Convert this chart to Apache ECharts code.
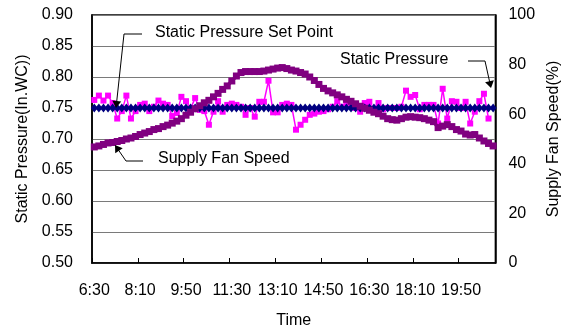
<!DOCTYPE html>
<html>
<head>
<meta charset="utf-8">
<script src="https://cdn.jsdelivr.net/npm/echarts@6/dist/echarts.min.js"></script>
<style>
html,body{margin:0;padding:0;background:#fff;}
#chart{width:570px;height:334px;}
</style>
</head>
<body>
<div id="chart"></div>
<script>
// ---- data ----
var times = [
"6:30","6:40","6:50","7:00","7:10","7:20","7:30","7:40","7:50","8:00",
"8:10","8:20","8:30","8:40","8:50","9:00","9:10","9:20","9:30","9:40",
"9:50","10:00","10:10","10:20","10:30","10:40","10:50","11:00","11:10","11:20",
"11:30","11:40","11:50","12:00","12:10","12:20","12:30","12:40","12:50","13:00",
"13:10","13:20","13:30","13:40","13:50","14:00","14:10","14:20","14:30","14:40",
"14:50","15:00","15:10","15:20","15:30","15:40","15:50","16:00","16:10","16:20",
"16:30","16:40","16:50","17:00","17:10","17:20","17:30","17:40","17:50","18:00",
"18:10","18:20","18:30","18:40","18:50","19:00","19:10","19:20","19:30","19:40",
"19:50","20:00","20:10","20:20","20:30","20:40","20:50","21:00"
];

var setPoint = [
0.75,0.75,0.75,0.75,0.75,0.75,0.75,0.75,0.75,0.75,
0.75,0.75,0.75,0.75,0.75,0.75,0.75,0.75,0.75,0.75,
0.75,0.75,0.75,0.75,0.75,0.75,0.75,0.75,0.75,0.75,
0.75,0.75,0.75,0.75,0.75,0.75,0.75,0.75,0.75,0.75,
0.75,0.75,0.75,0.75,0.75,0.75,0.75,0.75,0.75,0.75,
0.75,0.75,0.75,0.75,0.75,0.75,0.75,0.75,0.75,0.75,
0.75,0.75,0.75,0.75,0.75,0.75,0.75,0.75,0.75,0.75,
0.75,0.75,0.75,0.75,0.75,0.75,0.75,0.75,0.75,0.75,
0.75,0.75,0.75,0.75,0.75,0.75,0.75,0.75
];

var staticPressure = [
0.763,0.770,0.762,0.770,0.758,0.733,0.745,0.770,0.733,0.745,
0.755,0.757,0.745,0.752,0.762,0.757,0.755,0.737,0.742,0.768,
0.761,0.749,0.766,0.747,0.745,0.723,0.744,0.761,0.744,0.755,
0.757,0.755,0.752,0.739,0.750,0.736,0.760,0.760,0.794,0.743,
0.743,0.755,0.757,0.755,0.715,0.723,0.731,0.739,0.741,0.744,
0.745,0.748,0.752,0.761,0.752,0.755,0.755,0.750,0.744,0.758,
0.760,0.744,0.758,0.748,0.750,0.750,0.750,0.752,0.778,0.768,
0.771,0.748,0.755,0.755,0.755,0.725,0.781,0.733,0.761,0.760,
0.750,0.760,0.725,0.744,0.761,0.773,0.733,null
];

var fanSpeed = [
46.8,47.2,47.8,48.4,48.6,49.0,49.4,50.0,50.4,51.0,
51.8,52.4,53.0,53.8,54.2,55.0,55.6,56.4,57.2,58.2,
59.6,60.8,62.2,63.4,64.6,65.6,67.0,68.4,70.0,71.4,
73.4,75.4,76.8,77.2,77.2,77.2,77.2,77.4,77.8,78.2,
78.6,78.8,78.4,77.8,77.4,76.8,76.2,75.0,73.6,72.0,
70.4,69.4,68.6,67.8,67.0,66.0,65.2,64.2,63.2,62.4,
61.6,60.8,60.2,59.2,58.2,57.8,57.6,58.2,58.8,59.0,
58.8,58.6,58.2,57.6,57.0,54.6,55.2,55.8,55.0,53.8,
53.2,52.0,51.6,51.8,50.4,49.2,48.2,47.2
];

var leftTicks = {min:0.50, max:0.90, interval:0.05};
var rightTicks = {min:0, max:100, interval:20};

var FONT = 'Liberation Sans, Arial, sans-serif';

function arrowHead(tip, from, len, half) {
  var dx = tip[0]-from[0], dy = tip[1]-from[1];
  var d = Math.sqrt(dx*dx+dy*dy); dx/=d; dy/=d;
  var bx = tip[0]-dx*len, by = tip[1]-dy*len;
  return [[tip[0],tip[1]],[bx-dy*half,by+dx*half],[bx+dy*half,by-dx*half]];
}

function annotation(text, tx, ty, pts) {
  var tip = pts[pts.length-1], prev = pts[pts.length-2];
  var head = arrowHead(tip, prev, 7, 4.5);
  var dx = tip[0]-prev[0], dy = tip[1]-prev[1];
  var d = Math.sqrt(dx*dx+dy*dy);
  var linePts = pts.slice(0, -1).concat([[tip[0]-dx/d*6, tip[1]-dy/d*6]]);
  return [
    {type:'text', left:tx, top:ty, z:100,
     style:{text:text, font:'16px ' + FONT, fill:'#000', textVerticalAlign:'middle'}},
    {type:'polyline', z:100, shape:{points:linePts},
     style:{stroke:'#000', lineWidth:1, fill:null}},
    {type:'polygon', z:100, shape:{points:head}, style:{fill:'#000'}}
  ];
}

var chart = echarts.init(document.getElementById('chart'), null, {renderer:'canvas'});

var graphics = []
  .concat(annotation('Static Pressure Set Point', 155, 25, [[142,34],[124,34],[116,108]]))
  .concat(annotation('Static Pressure', 340, 52, [[468,61],[485,61],[491,88]]))
  .concat(annotation('Supply Fan Speed', 158, 151, [[143,161],[126,161],[115,145]]));

chart.setOption({
  animation:false,
  backgroundColor:'#fff',
  textStyle:{fontFamily:FONT},
  grid:{left:92, right:65, top:15, bottom:67, show:true, borderColor:'#000', borderWidth:1.5, backgroundColor:'transparent'},
  xAxis:{
    type:'category', data:times, boundaryGap:true,
    name:'Time', nameLocation:'middle', nameGap:50,
    nameTextStyle:{fontSize:16, color:'#000', fontFamily:FONT},
    axisLine:{show:true, lineStyle:{color:'#000', width:1.5}},
    axisTick:{show:true, inside:true, length:5, interval:9, lineStyle:{color:'#000'}},
    axisLabel:{interval:9, fontSize:16, color:'#000', margin:20, fontFamily:FONT},
    splitLine:{show:false}
  },
  yAxis:[
    {type:'value', min:leftTicks.min, max:leftTicks.max, interval:leftTicks.interval,
     name:'Static Pressure(In.WC))', nameLocation:'middle', nameGap:60, nameRotate:90,
     nameTextStyle:{fontSize:16, color:'#000', fontFamily:FONT},
     axisLine:{show:true, lineStyle:{color:'#000', width:1.5}},
     axisTick:{show:false},
     axisLabel:{fontSize:16, color:'#000', margin:19, fontFamily:FONT,
       formatter:function(v){return v.toFixed(2);}},
     splitLine:{show:true, lineStyle:{color:'#7a7a7a', width:1}}},
    {type:'value', min:rightTicks.min, max:rightTicks.max, interval:rightTicks.interval,
     position:'right',
     name:'Supply Fan Speed(%)', nameLocation:'middle', nameGap:44, nameRotate:90,
     nameTextStyle:{fontSize:16, color:'#000', fontFamily:FONT},
     axisLine:{show:true, lineStyle:{color:'#000', width:1.5}},
     axisTick:{show:false},
     axisLabel:{fontSize:16, color:'#000', margin:13, fontFamily:FONT},
     splitLine:{show:false}}
  ],
  series:[
    {name:'Static Pressure', type:'line', yAxisIndex:0, data:staticPressure,
     symbol:'rect', symbolSize:6, showAllSymbol:true, z:2,
     lineStyle:{color:'#FF00FF', width:1.5},
     itemStyle:{color:'#FF00FF'}},
    {name:'Static Pressure Set Point', type:'line', yAxisIndex:0, data:setPoint,
     symbol:'diamond', symbolSize:[7,9], showAllSymbol:true, z:3,
     lineStyle:{color:'#000080', width:2.5},
     itemStyle:{color:'#000080'}},
    {name:'Supply Fan Speed', type:'line', yAxisIndex:1, data:fanSpeed,
     symbol:'rect', symbolSize:7, showAllSymbol:true, z:4,
     lineStyle:{color:'#800080', width:3.5},
     itemStyle:{color:'#800080'}}
  ],
  graphic:graphics
});
</script>
</body>
</html>
